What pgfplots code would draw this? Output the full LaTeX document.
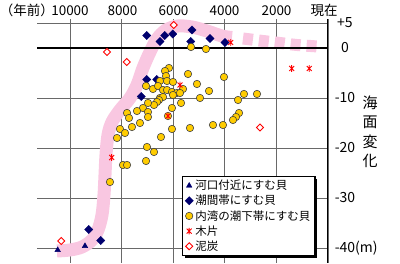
\documentclass[border=0pt]{standalone}
\usepackage{pgfplots}
\pgfplotsset{compat=1.18}
\usepackage{fontspec}
\setmainfont{Noto Sans CJK JP}
\usetikzlibrary{shadows}
\definecolor{pinkband}{RGB}{249,199,225}
\definecolor{navy}{RGB}{0,0,110}
\definecolor{gold}{RGB}{255,204,0}
\definecolor{gridc}{RGB}{105,105,105}
\pgfdeclareplotmark{xstar}{%
  \pgfpathmoveto{\pgfqpoint{-0.75\pgfplotmarksize}{-0.75\pgfplotmarksize}}%
  \pgfpathlineto{\pgfqpoint{0.75\pgfplotmarksize}{0.75\pgfplotmarksize}}%
  \pgfpathmoveto{\pgfqpoint{-0.75\pgfplotmarksize}{0.75\pgfplotmarksize}}%
  \pgfpathlineto{\pgfqpoint{0.75\pgfplotmarksize}{-0.75\pgfplotmarksize}}%
  \pgfpathmoveto{\pgfqpoint{0pt}{-\pgfplotmarksize}}%
  \pgfpathlineto{\pgfqpoint{0pt}{\pgfplotmarksize}}%
  \pgfusepathqstroke}
\begin{document}
\begin{tikzpicture}
\useasboundingbox (-37pt,-1pt) rectangle (363pt,263pt);
\begin{axis}[
  at={(0,0)}, anchor=south west,
  scale only axis, width=291pt, height=244pt,
  xmin=0, xmax=11279, x dir=reverse,
  ymin=-43, ymax=5.8,
  axis line style={draw=none},
  tick style={draw=none},
  xtick={0,2000,4000,6000,8000,10000},
  scaled x ticks=false,
  xticklabels={},
  xticklabel pos=upper,
  ytick={5,0,-10,-20,-30,-40},
  yticklabels={+5,0,-10,-20,-30,-40\rlap{(m)}},
  yticklabel pos=upper,
  grid=major,
  major grid style={gridc, line width=0.8pt},
  yticklabel style={anchor=base, xshift=17pt, yshift=-5pt, inner sep=0pt, font=\fontsize{14}{14}\selectfont},
  legend style={at={(axis cs:5659,-25.6)}, anchor=north west, draw=black, line width=1.2pt,
    fill=white, font=\fontsize{11.5}{12}\selectfont, inner sep=1.5pt, inner xsep=2.5pt, row sep=0pt,
    drop shadow={shadow xshift=2.5pt, shadow yshift=-2.5pt, fill=black, opacity=1}},
  legend cell align=left,
  legend image code/.code={\draw[mark repeat=2,mark phase=2] plot coordinates {(0pt,0pt) (12pt,0pt) (23pt,0pt)};},
]
% pink band (solid part)
\addplot[smooth, tension=0.55, draw=pinkband, line width=13pt, forget plot] coordinates {
(10504,-40.6) (10000,-40.4) (9535,-39.8) (9147,-38.4) (8915,-36.4) (8760,-33.4)
(8682,-29.4) (8643,-25.4) (8605,-21.4) (8527,-17.4) (8372,-14.8) (8062,-12.4)
(7674,-10.0) (7403,-7.4) (7171,-4.0) (6899,-0.8) (6628,1.8) (6279,3.6)
(5814,4.4) (5271,4.2) (4690,3.4) (4109,2.4) (3721,2.1)};
% pink band (dashed part)
\addplot[smooth, draw=pinkband, line width=12pt, dash pattern=on 10pt off 6pt, forget plot] coordinates {
(3295,1.9) (2519,1.4) (1860,1.0) (1202,0.6) (388,0.3)};
% zero line and right axis
\addplot[black, line width=2pt, forget plot] coordinates {(0,0) (11279,0)};
\addplot[black, line width=2pt, forget plot] coordinates {(0,5.8) (0,-43.2)};
% 河口付近にすむ貝
\addplot[only marks, mark=triangle*, mark size=3.2pt, mark options={fill=navy, draw=navy, line width=0.4pt}] coordinates {
(10477,-40.4) (9419,-39.6)};
\addlegendentry{河口付近にすむ貝}
% 潮間帯にすむ貝
\addplot[only marks, mark=square*, mark size=2.9pt, mark options={rotate=45, fill=navy, draw=navy, line width=0.4pt}] coordinates {
(7028,2.5) (6330,2.5) (6020,2.8) (6512,1.3) (5271,3.6) (5322,1.3) (4573,1.9) (3992,1.1)
(7028,-6.3) (6640,-6.3) (7236,-9.7) (9275,-36.3) (8810,-38.5)};
\addlegendentry{潮間帯にすむ貝}
% 内湾の潮下帯にすむ貝
\addplot[only marks, mark=*, mark size=3.7pt, mark options={fill=gold, draw=black!75, line width=0.6pt}] coordinates {
(5310,0.2) (4729,-0.2) (6163,-4.0) (6318,-4.6) (6279,-5.6) (5426,-5.2) (4031,-5.8)
(6512,-6.6) (6240,-6.6) (6008,-6.8) (5078,-7.2) (7054,-7.6) (6783,-8.2) (6589,-7.6)
(6395,-8.4) (6240,-8.4) (6047,-8.8) (5853,-9.0) (5620,-8.2) (4612,-8.6) (6008,-9.4)
(6512,-10.0) (4961,-10.0) (5697,-11.0) (3488,-10.4) (3256,-9.2) (2752,-9.2) (6047,-12.0)
(3449,-13.0) (3566,-13.8) (3682,-14.4) (6047,-16.2) (5349,-16.0) (4457,-15.4) (4070,-15.4)
(6395,-9.8) (6550,-10.4) (6628,-10.8) (6744,-11.4) (6977,-11.0) (7171,-12.0) (7403,-12.6)
(6977,-12.8) (7790,-13.0) (7713,-14.0) (6977,-13.8) (5736,-9.0) (7287,-15.0) (7597,-15.8)
(8062,-16.2) (7868,-17.0) (8178,-18.0) (6473,-17.8) (7016,-19.8) (6744,-20.8) (7054,-22.6)
(7946,-23.4) (7790,-23.4) (8450,-26.8) (6202,-13.6)};
\addlegendentry{内湾の潮下帯にすむ貝}
% 木片
\addplot[only marks, mark=xstar, mark size=3.3pt, mark options={draw=red, line width=0.9pt}] coordinates {
(3771,1.1) (1407,-4.1) (725,-4.1) (5736,-7.4) (6202,-13.6) (8384,-21.9)};
\addlegendentry{木片}
% 泥炭
\addplot[only marks, mark=square*, mark size=2.5pt, mark options={rotate=45, fill=white, draw=red, line width=0.9pt}] coordinates {
(5981,4.6) (8566,-0.8) (7802,-2.8) (2636,-15.9) (10337,-38.6)};
\addlegendentry{泥炭}
\end{axis}
\begin{scope}[every node/.style={anchor=base, inner sep=0pt, font=\fontsize{13.5}{14}\selectfont}]
\node at (33pt,247.5pt) {10000};
\node at (85.5pt,247.5pt) {8000};
\node at (136.5pt,247.5pt) {6000};
\node at (187.5pt,247.5pt) {4000};
\node at (239.5pt,247.5pt) {2000};
\node at (287pt,247.5pt) {現在};
\node[anchor=base east] at (17pt,247.5pt) {（年前）};
\end{scope}
\node[align=center, inner sep=0pt, font=\fontsize{15}{19.5}\selectfont] at (333pt,131pt) {海\\面\\変\\化};
\end{tikzpicture}
\end{document}
